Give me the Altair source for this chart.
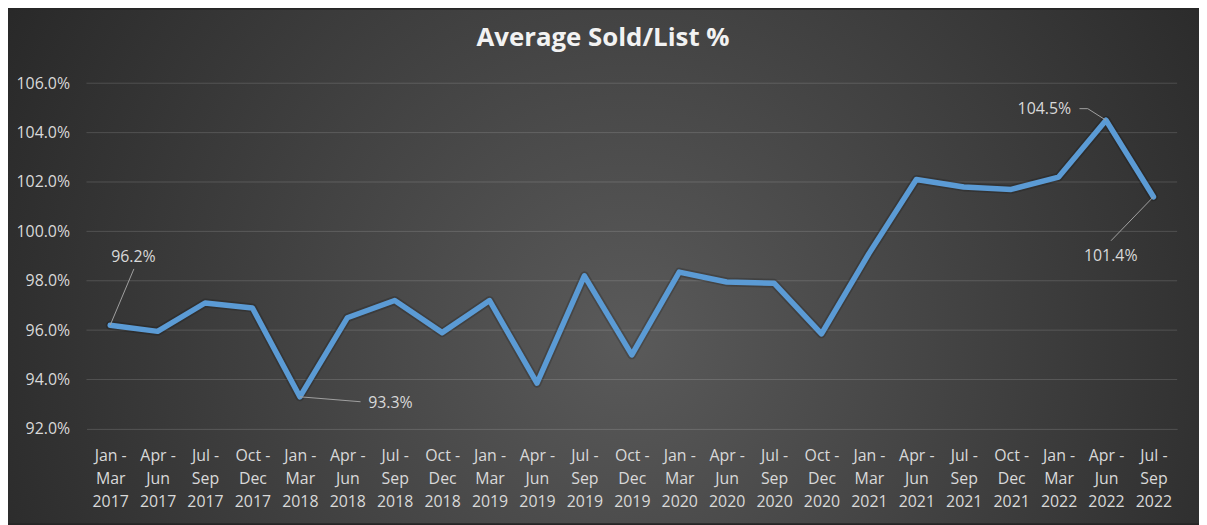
import altair as alt
import pandas as pd

# ---- data ----
start_months = ["Jan", "Apr", "Jul", "Oct"] * 5 + ["Jan", "Apr", "Jul"]
end_months = ["Mar", "Jun", "Sep", "Dec"] * 5 + ["Mar", "Jun", "Sep"]
years = [2017] * 4 + [2018] * 4 + [2019] * 4 + [2020] * 4 + [2021] * 4 + [2022] * 3
values = [96.2, 95.95, 97.1, 96.9, 93.3, 96.5, 97.2, 95.9, 97.2, 93.85, 98.2, 95.0,
          98.35, 97.95, 97.9, 95.85, 99.1, 102.1, 101.8, 101.7, 102.2, 104.5, 101.4]
y_ticks = [92, 94, 96, 98, 100, 102, 104, 106]

# annotated points and where their labels / leader lines go (in data units)
ann_index = [0, 4, 21, 22]
ann_label_x = [0.49, 5.91, 19.70, 21.10]
ann_label_y = [98.98, 93.06, 104.95, 99.01]
ann_path = [[(0.50, 98.48)], [(5.28, 93.10)], [(20.615, 104.97), (20.44, 104.97)], [(21.105, 99.62)]]

# ---- tables ----
labels = [f"{s} -|{e}|{y}" for s, e, y in zip(start_months, end_months, years)]
df = pd.DataFrame({"idx": list(range(len(values))), "value": values})
grid_df = pd.DataFrame({"tick": y_ticks[1:]})

ann_df = pd.DataFrame({
    "x": ann_label_x,
    "y": ann_label_y,
    "text": [f"{values[i]:.1f}%" for i in ann_index],
})
rows = []
for k, i in enumerate(ann_index):
    pts = [(i, values[i])] + ann_path[k]
    for o, (px, py) in enumerate(pts):
        rows.append({"ann": k, "o": o, "x": px, "y": py})
lead_df = pd.DataFrame(rows)

label_arr = "[" + ",".join("'" + l + "'" for l in labels) + "]"
x_label_expr = f"split({label_arr}[datum.value], '|')"

W, H = 1098, 348
PAD = {"left": 79, "top": 74, "right": 22, "bottom": 95}
FONT = "Open Sans"
TXT = "#d9d9d9"

x_scale = alt.Scale(domain=[-0.5, len(values) - 0.5], nice=False, zero=False)
y_scale = alt.Scale(domain=[92, 106], nice=False, zero=False)

bg = alt.Chart(pd.DataFrame({"a": [0]})).mark_rect(
    fill={
        "gradient": "radial",
        "x1": 0.52, "y1": 0.56, "r1": 0,
        "x2": 0.52, "y2": 0.56, "r2": 0.62,
        "stops": [
            {"offset": 0, "color": "#5a5a5a"},
            {"offset": 1, "color": "#262626"},
        ],
    },
    stroke=None,
).encode(
    x=alt.value(-PAD["left"]),
    x2=alt.value(W + PAD["right"]),
    y=alt.value(-PAD["top"]),
    y2=alt.value(H + PAD["bottom"]),
)

grid = alt.Chart(grid_df).mark_rule(color="#ffffff", opacity=0.15, strokeWidth=1).encode(
    y=alt.Y("tick:Q", scale=y_scale),
)

base = alt.Chart(df)

line = base.mark_line(
    color="#5B9BD5", strokeWidth=5.5, strokeJoin="round", strokeCap="round"
).encode(
    x=alt.X("idx:Q", scale=x_scale,
            axis=alt.Axis(values=list(range(len(values))), labelExpr=x_label_expr,
                          title=None, grid=False, ticks=False, domain=True,
                          domainColor="#ffffff", domainOpacity=0.15, domainWidth=1,
                          labelColor=TXT, labelFont=FONT, labelFontSize=16,
                          labelLineHeight=23, labelPadding=19, labelBaseline="top",
                          labelOverlap=False, labelBound=False, labelFlush=False,
                          zindex=1)),
    y=alt.Y("value:Q", scale=y_scale,
            axis=alt.Axis(values=y_ticks, labelExpr="format(datum.value, '.1f') + '%'",
                          title=None, grid=False, ticks=False, domain=False,
                          labelColor=TXT, labelFont=FONT, labelFontSize=16,
                          labelPadding=17, zindex=1)),
)

shadow = base.mark_line(
    color="#000000", opacity=0.18, strokeWidth=9, strokeJoin="round", strokeCap="round"
).encode(x=alt.X("idx:Q", scale=x_scale), y=alt.Y("value:Q", scale=y_scale))

leaders = alt.Chart(lead_df).mark_line(color="#a0a0a0", strokeWidth=1).encode(
    x=alt.X("x:Q", scale=x_scale),
    y=alt.Y("y:Q", scale=y_scale),
    detail="ann:N",
    order="o:Q",
)

ann_text = alt.Chart(ann_df).mark_text(
    font=FONT, fontSize=16, color=TXT, align="center", baseline="middle"
).encode(
    x=alt.X("x:Q", scale=x_scale),
    y=alt.Y("y:Q", scale=y_scale),
    text="text:N",
)

chart = alt.layer(bg, grid, shadow, line, leaders, ann_text).properties(
    width=W,
    height=H,
    padding=PAD,
    autosize="none",
    background="#262626",
    title=alt.TitleParams(
        "Average Sold/List %", font=FONT, fontSize=26, fontWeight="bold",
        color="#f2f2f2", anchor="middle", dx=-29, offset=-42, zindex=1,
    ),
).configure_view(stroke=None)

chart.save("out.html", embed_options={"renderer": "svg", "actions": False})
